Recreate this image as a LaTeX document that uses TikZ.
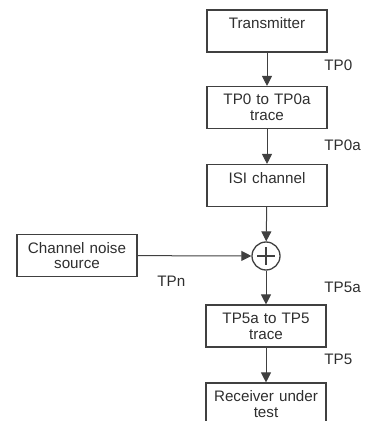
\documentclass[tikz,border=0pt]{standalone}
\usepackage{fontspec}
\setmainfont{Liberation Sans}
\usetikzlibrary{arrows.meta}
\definecolor{linegray}{HTML}{404040}
\definecolor{textgray}{HTML}{2E2E2E}
\tikzset{
  blockbox/.style={draw=linegray, line width=0.55pt, minimum width=60pt, minimum height=21pt,
    text width=58pt, align=center, inner sep=1pt, font=\fontsize{7.6}{7.9}\selectfont, text=textgray},
  sumnode/.style={draw=linegray, circle, line width=0.65pt, minimum size=14pt, inner sep=0pt},
  tplabel/.style={anchor=west, font=\fontsize{7.6}{8}\selectfont, text=textgray, inner sep=0pt},
  flow/.style={draw=linegray, line width=0.5pt, -{Triangle[width=5pt,length=5pt]}},
}

\begin{document}
\begin{tikzpicture}[x=0.5pt,y=-0.5pt]
\useasboundingbox (0,0) rectangle (364,421);
% main chain
\node[blockbox] (tx) at (267,31) {Transmitter\\~};
\node[blockbox] (trzero) at (267,107.5) {TP0 to TP0a\\trace};
\node[blockbox] (isi) at (267,185.5) {ISI channel\\~};
\node[sumnode] (sum) at (266,256) {};
\node[blockbox] (trfive) at (266,326) {TP5a to TP5\\trace};
\node[blockbox] (rx) at (266,404) {Receiver under\\test};
% noise branch
\node[blockbox] (noise) at (77,255.5) {Channel noise\\source};
% plus sign
\draw[linegray, line width=0.6pt] ([yshift=-3pt]sum.north) -- ([yshift=3pt]sum.south);
\draw[linegray, line width=0.6pt] ([xshift=3pt]sum.west) -- ([xshift=-3pt]sum.east);
% arrows
\draw[flow] (tx) -- (trzero);
\draw[flow] (trzero) -- (isi);
\draw[flow] (isi) -- (sum);
\draw[flow] (noise) -- (sum);
\draw[flow] (sum) -- (trfive);
\draw[flow] (trfive) -- (rx);
% test points
\node[tplabel] (tpa) at (324,65) {TP0};
\node[tplabel] (tpb) at (324,145) {TP0a};
\node[tplabel] (tpn) at (157,281) {TPn};
\node[tplabel] (tpc) at (324,287) {TP5a};
\node[tplabel] (tpd) at (324,359) {TP5};
\end{tikzpicture}
\end{document}
